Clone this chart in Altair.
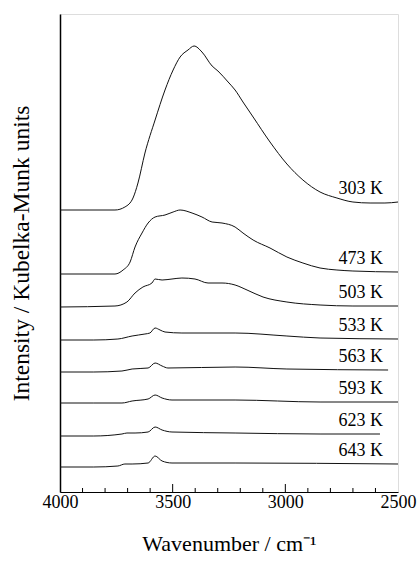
import altair as alt
import pandas as pd

# Diffuse-reflectance IR spectra (OH stretching region) recorded at rising temperature.
temps = ["303 K", "473 K", "503 K", "533 K", "563 K", "593 K", "623 K", "643 K"]
offsets = [282, 218, 185, 152, 120, 89, 56, 25]  # vertical stacking of the traces

wn_303 = [4000, 3867, 3756, 3712, 3676, 3654, 3623, 3578, 3534, 3498, 3467, 3432, 3405,
          3370, 3325, 3299, 3254, 3223, 3188, 3143, 3068, 2993, 2922, 2846, 2771, 2700,
          2624, 2558, 2500]
km_303 = [0, 0, 0, 3, 12, 27, 57, 90, 120, 140, 153, 160, 164,
          158, 144, 139, 128, 120, 108, 93, 68, 46, 30, 18, 12, 8,
          7, 7, 8]

wn_473 = [4000, 3756, 3720, 3689, 3667, 3636, 3609, 3578, 3534, 3498, 3467, 3414, 3370,
          3325, 3281, 3223, 3188, 3143, 3068, 2993, 2922, 2846, 2771, 2700, 2500]
km_473 = [0, 0, 4, 12, 27, 41, 51, 57, 59, 62, 64, 61, 57,
          52, 51, 47, 41, 34, 26, 17, 11, 6, 4, 3, 2]

wn_503 = [4000, 3756, 3703, 3667, 3632, 3592, 3578, 3547, 3503, 3459, 3401, 3343, 3281,
          3223, 3170, 3099, 2993, 2846, 2700, 2500]
km_503 = [0, 1, 5, 14, 20, 24, 28, 27, 28, 29, 28, 24, 24,
          22, 17, 10, 5, 2, 1, 1]

wn_533 = [4000, 3850, 3743, 3680, 3623, 3601, 3578, 3556, 3534, 3459, 3223, 2993, 2846, 2500]
km_533 = [0, 0, 1, 4, 6, 7, 12, 10, 8, 7, 7, 4, 2, 1]

wn_563 = [4000, 3850, 3725, 3680, 3609, 3578, 3547, 3521, 3223, 2993, 2544]
km_563 = [0, 0, 1, 3, 4, 9, 6, 4, 5, 3, 2]

wn_593 = [4000, 3850, 3725, 3680, 3609, 3578, 3547, 3503, 3223, 2846, 2500]
km_593 = [0, 0, 0, 2, 4, 8, 5, 3, 3, 1, 1]

wn_623 = [4000, 3850, 3725, 3703, 3667, 3609, 3578, 3547, 3503, 3223, 2846, 2580]
km_623 = [0, 0, 2, 3, 3, 4, 9, 6, 4, 3, 2, 2]

wn_643 = [4000, 3850, 3743, 3712, 3680, 3609, 3578, 3547, 3503, 3223, 2500]
km_643 = [0, 0, 1, 3, 3, 4, 11, 6, 4, 4, 3]

wavenumbers = [wn_303, wn_473, wn_503, wn_533, wn_563, wn_593, wn_623, wn_643]
intensities = [km_303, km_473, km_503, km_533, km_563, km_593, km_623, km_643]

major_ticks = [3500, 3000]
minor_ticks = [w for w in range(3900, 2500, -100) if w % 500]
tick_labels = [4000, 3500, 3000, 2500]

rows = []
labels = []
for t, off, wn, km in zip(temps, offsets, wavenumbers, intensities):
    for w, k in zip(wn, km):
        rows.append({"temp": t, "wn": w, "y": off + k})
    labels.append({"temp": t, "wn": 2567, "y": off + km[-1] + 13})
spectra = pd.DataFrame(rows)
label_df = pd.DataFrame(labels)
major_df = pd.DataFrame({"wn": major_ticks})
minor_df = pd.DataFrame({"wn": minor_ticks})

SERIF = "Liberation Serif"
W, H = 338, 478
x_scale = alt.Scale(domain=[4000, 2500], nice=False, zero=False)
y_scale = alt.Scale(domain=[0, H], nice=False, zero=False)

lines = alt.Chart(spectra).mark_line(
    color="#111111", strokeWidth=1, interpolate="monotone"
).encode(
    x=alt.X("wn:Q", scale=x_scale,
            axis=alt.Axis(values=tick_labels, ticks=False, grid=False, format="d",
                          labelFont=SERIF, labelFontSize=18, labelColor="black",
                          labelFlush=False, labelPadding=1,
                          domainColor="black", domainWidth=1.2,
                          title="Wavenumber / cm⁻¹", titleFont=SERIF,
                          titleFontSize=22, titleFontWeight="normal",
                          titleColor="black", titlePadding=22)),
    y=alt.Y("y:Q", scale=y_scale,
            axis=alt.Axis(labels=False, ticks=False, grid=False,
                          domainColor="black", domainWidth=1.5,
                          title="Intensity / Kubelka-Munk units", titleFont=SERIF,
                          titleFontSize=23.5, titleFontWeight="normal",
                          titleColor="black", titlePadding=27)),
    detail="temp:N",
)

text = alt.Chart(label_df).mark_text(
    font=SERIF, fontSize=18, align="right", baseline="middle", color="black"
).encode(
    x=alt.X("wn:Q", scale=x_scale),
    y=alt.Y("y:Q", scale=y_scale),
    text="temp:N",
)

# inward-pointing ticks along the bottom edge
major = alt.Chart(major_df).mark_rule(color="black", strokeWidth=1).encode(
    x=alt.X("wn:Q", scale=x_scale),
    y=alt.value(H),
    y2=alt.value(H - 8),
)
minor = alt.Chart(minor_df).mark_rule(color="black", strokeWidth=1).encode(
    x=alt.X("wn:Q", scale=x_scale),
    y=alt.value(H),
    y2=alt.value(H - 4),
)

chart = alt.layer(lines, text, major, minor).properties(
    width=W, height=H,
    autosize=alt.AutoSizeParams(type="none"),
    padding={"left": 60, "top": 14, "right": 22, "bottom": 70},
).configure_view(
    stroke="black", strokeWidth=1.2
).configure(background="white")

chart.save("out.html", embed_options={"renderer": "svg", "actions": False})
